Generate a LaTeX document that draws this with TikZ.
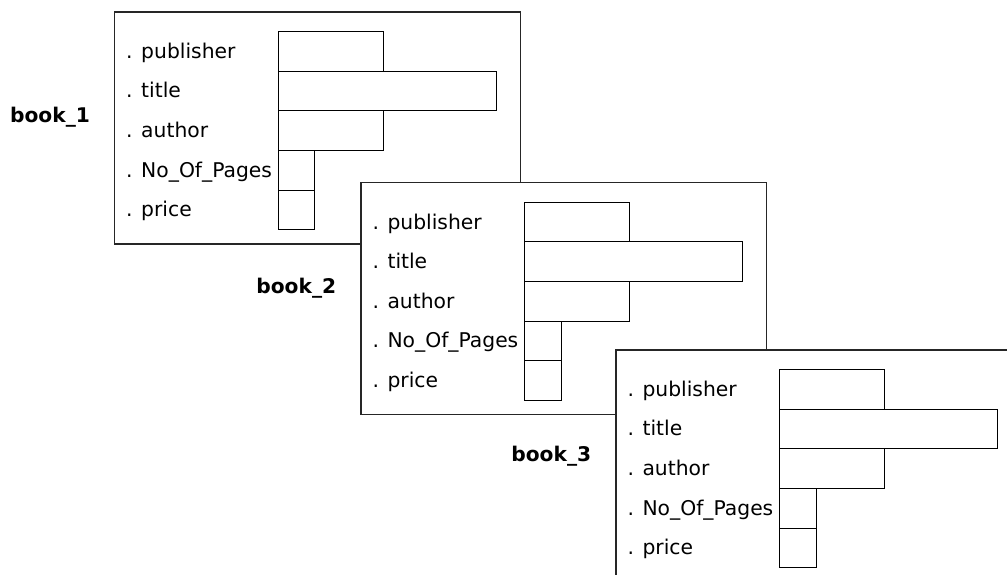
\documentclass[tikz,border=0pt]{standalone}
\usepackage{fontspec}
\setmainfont{DejaVu Sans}
\begin{document}
\begin{tikzpicture}[x=1pt,y=-1pt,
  frame/.style={draw=black!85,fill=white,line width=1.1pt},
  field/.style={draw=black,line width=0.9pt},
  lbl/.style={anchor=base west,inner sep=0pt,font=\fontsize{20.3}{23}\selectfont},
  bname/.style={anchor=base west,inner sep=0pt,font=\fontsize{20.2}{23}\selectfont\bfseries}]
\useasboundingbox (0,0) rectangle (1007,575);
\clip (0,0) rectangle (1007,575);
\fill[white] (0,0) rectangle (1007,575);
\foreach \i/\bx/\by in {1/114.7/12, 2/361/182.7, 3/616/350} {
  \begin{scope}[shift={(\bx,\by)}]
    \draw[frame] (0,0) rectangle (405.7,232);
    \node[bname] (name\i) at (-104.8,111) {book\_\i};
    \draw[field] (163.3,19.6) rectangle (268.3,59.2);
    \draw[field] (163.3,59.2) rectangle (381.3,98.8);
    \draw[field] (163.3,98.8) rectangle (268.3,138.4);
    \draw[field] (163.3,138.4) rectangle (200,178);
    \draw[field] (163.3,178) rectangle (200,217.6);
    \node[lbl] (pub\i) at (11.3,46.3) {. publisher};
    \node[lbl] (tit\i) at (11.3,85.9) {. title};
    \node[lbl] (aut\i) at (11.3,125.5) {. author};
    \node[lbl] (nop\i) at (11.3,165.1) {. No\_Of\_Pages};
    \node[lbl] (pri\i) at (11.3,204.7) {. price};
  \end{scope}
}
\end{tikzpicture}
\end{document}
